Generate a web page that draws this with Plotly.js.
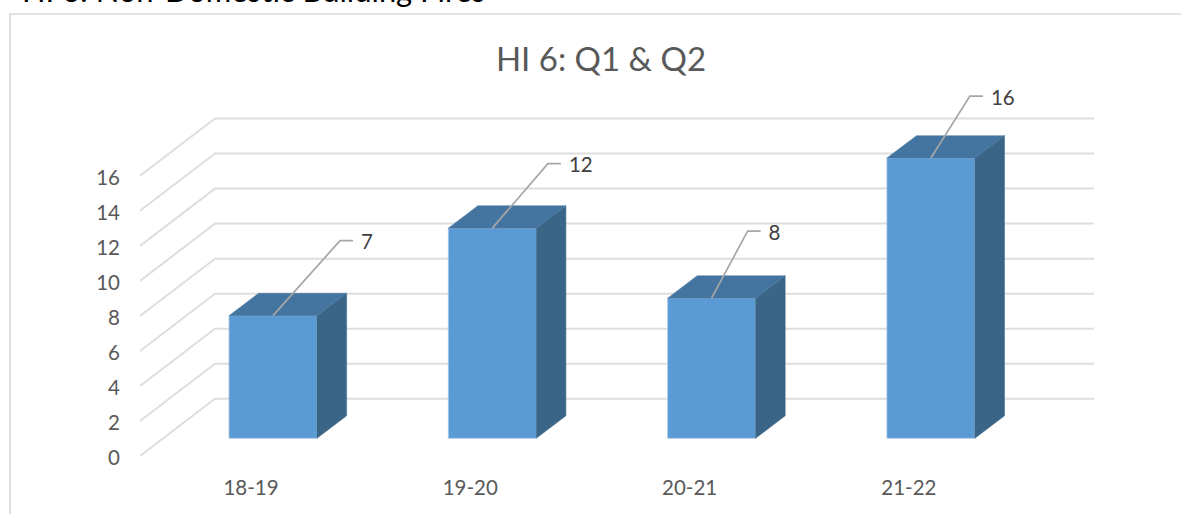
<!DOCTYPE html>
<html>
<head>
<meta charset="utf-8">
<script src="https://cdn.plot.ly/plotly-3.0.1.min.js"></script>
<style>html,body{margin:0;padding:0;background:#fff;overflow:hidden}#c{width:1181px;height:514px}</style>
</head>
<body>
<div id="c"></div>
<script>
var categories = ['18-19', '19-20', '20-21', '21-22'];
var values = [7, 12, 8, 16];
var axisTicks = [0, 2, 4, 6, 8, 10, 12, 14, 16];
var headerText = 'HI 6: Non-Domestic Building Fires';
var titleText = 'HI 6: Q1 & Q2';

// layout geometry (pixels)
var W = 1181, H = 514;
var plotL = 140, plotR = 1095, plotB = 455.7, plotT = 60;
var pxPerUnitY = 17.5, pxPerCat = 219.3;
var firstCatPx = 251;
var wallDX = 75, wallDY = 57.2;
var barDX = 29.6, barDY = 22.4;
var barW = 88, barCenterShift = 22, baseLift = 17.7;
var leaderOffsets = [[67, 75], [55.6, 64.4], [36, 67], [39, 62]];
var leaderTail = 13, labelGap = 8, labelDrop = 3.5;

function dx(px) { return px / pxPerCat; }
function dy(px) { return px / pxPerUnitY; }
var xMin = (plotL - firstCatPx) / pxPerCat;
var xMax = (plotR - firstCatPx) / pxPerCat;
var yMax = (plotB - plotT) / pxPerUnitY;
var base = dy(baseLift);
var grid = '#dedede', front = '#5b9bd5', side = '#3a6587', top_ = '#4475a1', leader = '#a6a6a6';

var shapes = axisTicks.map(function (t) {
  var y1 = t + dy(wallDY);
  var x0 = xMin, x1 = xMin + dx(wallDX), x2 = xMin + dx(1094 - plotL);
  return {
    type: 'path', layer: 'below', xref: 'x', yref: 'y',
    path: 'M' + x0 + ',' + t + 'L' + x1 + ',' + y1 + 'L' + x2 + ',' + y1,
    line: { color: grid, width: 2 }
  };
});
// frame of the chart
shapes.push({ type: 'path', layer: 'below', xref: 'paper', yref: 'paper',
  path: 'M' + (10 - plotL) / (plotR - plotL) + ',' + (plotB - 514) / (plotB - plotT) +
        'L' + (10 - plotL) / (plotR - plotL) + ',' + (plotB - 14) / (plotB - plotT) +
        'L' + (1181 - plotL) / (plotR - plotL) + ',' + (plotB - 14) / (plotB - plotT),
  line: { color: '#d9d9d9', width: 1.6 } });

var centers = categories.map(function (c, i) { return i + dx(barCenterShift); });
var halfW = dx(barW) / 2;

var traces = [{
  type: 'bar', x: centers, y: values, base: values.map(function () { return base; }),
  width: dx(barW), marker: { color: front, line: { color: '#a9c8e6', width: 0.8 } },
  hoverinfo: 'skip', showlegend: false
}];

values.forEach(function (v, i) {
  var l = centers[i] - halfW, r = centers[i] + halfW;
  var t = base + v, b = base, ox = dx(barDX), oy = dy(barDY);
  traces.push({ type: 'scatter', mode: 'lines', x: [r, r + ox, r + ox, r, r], y: [b, b + oy, t + oy, t, b],
    fill: 'toself', fillcolor: side, line: { color: side, width: 0.5 }, hoverinfo: 'skip', showlegend: false });
  traces.push({ type: 'scatter', mode: 'lines', x: [l, l + ox, r + ox, r, l], y: [t, t + oy, t + oy, t, t],
    fill: 'toself', fillcolor: top_, line: { color: top_, width: 0.5 }, hoverinfo: 'skip', showlegend: false });
});

values.forEach(function (v, i) {
  var x0 = centers[i], y0 = base + v;
  var x1 = x0 + dx(leaderOffsets[i][0]), y1 = y0 + dy(leaderOffsets[i][1]);
  var x2 = x1 + dx(leaderTail);
  traces.push({ type: 'scatter', mode: 'lines', x: [x0, x1, x2], y: [y0, y1, y1],
    line: { color: leader, width: 1.7 }, hoverinfo: 'skip', showlegend: false });
  traces.push({ type: 'scatter', mode: 'text', x: [x2 + dx(labelGap)], y: [y1 - dy(labelDrop)], text: [String(v)],
    textposition: 'middle right', textfont: { family: 'Lato, sans-serif', size: 20.5, color: '#404040' },
    hoverinfo: 'skip', showlegend: false });
});

var layout = {
  width: W, height: H,
  paper_bgcolor: '#fff', plot_bgcolor: 'rgba(0,0,0,0)',
  margin: { l: plotL, r: W - plotR, t: plotT, b: H - plotB, pad: 0 },
  showlegend: false,
  title: { text: titleText, x: 601 / W, xanchor: 'center', y: 1 - 59 / H, yanchor: 'middle',
    font: { family: 'Lato, sans-serif', size: 33, color: '#595959' } },
  xaxis: { type: 'linear', range: [xMin, xMax], tickmode: 'array',
    tickvals: categories.map(function (c, i) { return i; }), ticktext: categories,
    showgrid: false, zeroline: false, showline: false, ticks: '', ticklabelstandoff: 17,
    tickfont: { family: 'Lato, sans-serif', size: 20.5, color: '#595959' } },
  yaxis: { type: 'linear', range: [0, yMax], tickmode: 'array', tickvals: axisTicks,
    ticktext: axisTicks.map(String), ticklabelshift: 2,
    showgrid: false, zeroline: false, showline: false, ticks: '', ticklabelstandoff: 19,
    tickfont: { family: 'Lato, sans-serif', size: 20.5, color: '#595959' } },
  shapes: shapes,
  annotations: [{ text: headerText, xref: 'paper', yref: 'paper',
    x: (20 - plotL) / (plotR - plotL), y: (plotB + 9) / (plotB - plotT),
    xanchor: 'left', yanchor: 'middle', showarrow: false,
    font: { family: 'Lato, sans-serif', size: 30.9, color: '#000' } }]
};
Plotly.newPlot('c', traces, layout, { displayModeBar: false, staticPlot: true });
</script>
</body>
</html>
